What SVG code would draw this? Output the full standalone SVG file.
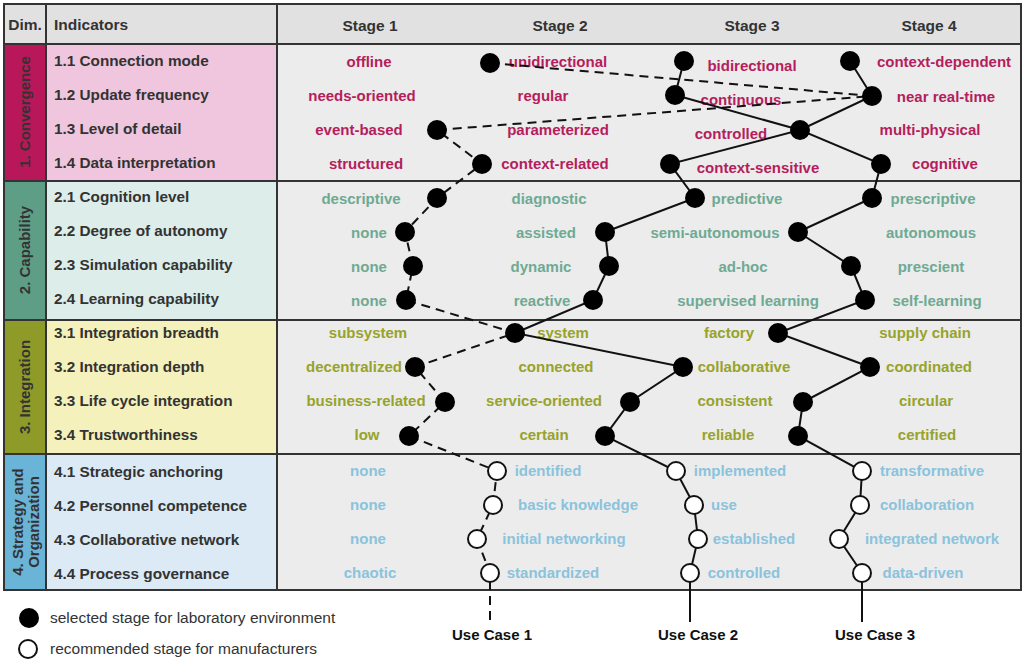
<svg xmlns="http://www.w3.org/2000/svg" width="1024" height="671" viewBox="0 0 1024 671">
<style>
text{font-family:"Liberation Sans",Arial,sans-serif;font-weight:bold;font-size:15px}
.h{font-size:15.5px;fill:#333;text-anchor:middle}
.ind{fill:#333;font-size:15.3px}
.m{fill:#b51d5c;text-anchor:middle}
.t{fill:#6eaa93;text-anchor:middle}
.o{fill:#97a32a;text-anchor:middle}
.b{fill:#8ac3dc;text-anchor:middle}
.dim{fill:#333;text-anchor:middle;font-size:15px}
.grid{stroke:#333;stroke-width:2;fill:none}
.s{stroke:#111;stroke-width:2;fill:none}
.d{stroke:#111;stroke-width:2;fill:none;stroke-dasharray:9 6}
.f{fill:#000}
.e{fill:#fff;stroke:#111;stroke-width:2}
.uc{font-size:15px;fill:#111;text-anchor:middle}
.lg{font-weight:normal;font-size:15.5px;fill:#333}
</style>
<rect width="1024" height="671" fill="#fff"/>
<g id="table">
<rect x="4" y="4" width="1017" height="40" fill="#e1e1e1"/>
<rect x="277" y="44" width="744" height="546" fill="#ececec"/>
<rect x="4" y="44" width="42" height="137" fill="#b8185a"/>
<rect x="46" y="44" width="231" height="137" fill="#efc6dd"/>
<rect x="4" y="181" width="42" height="139" fill="#5e9e86"/>
<rect x="46" y="181" width="231" height="139" fill="#dcedea"/>
<rect x="4" y="320" width="42" height="134" fill="#8f9b28"/>
<rect x="46" y="320" width="231" height="134" fill="#f4f1bd"/>
<rect x="4" y="454" width="42" height="136" fill="#6ab4d8"/>
<rect x="46" y="454" width="231" height="136" fill="#dbeaf5"/>
<rect x="4" y="4" width="1017" height="586" class="grid"/>
<path class="grid" d="M4 44H1021M4 181H1021M4 320H1021M4 454H1021M46 4V590M277 4V590"/>
</g>
<g id="headers">
<text x="25" y="30" class="h">Dim.</text>
<text x="54" y="30" class="ind" style="font-size:15.5px">Indicators</text>
<text x="370" y="31" class="h">Stage 1</text>
<text x="560" y="31" class="h">Stage 2</text>
<text x="752" y="31" class="h">Stage 3</text>
<text x="929" y="31" class="h">Stage 4</text>
</g>
<g id="dims">
<text class="dim" transform="translate(30,112) rotate(-90)">1. Convergence</text>
<text class="dim" transform="translate(30,250) rotate(-90)">2. Capability</text>
<text class="dim" transform="translate(30,387) rotate(-90)">3. Integration</text>
<text class="dim" transform="translate(23,522) rotate(-90)">4. Strategy and</text>
<text class="dim" transform="translate(39,522) rotate(-90)">Organization</text>
</g>
<g id="indicators">
<text x="54" y="66" class="ind">1.1 Connection mode</text>
<text x="54" y="100" class="ind">1.2 Update frequency</text>
<text x="54" y="134" class="ind">1.3 Level of detail</text>
<text x="54" y="168" class="ind">1.4 Data interpretation</text>
<text x="54" y="202" class="ind">2.1 Cognition level</text>
<text x="54" y="236" class="ind">2.2 Degree of autonomy</text>
<text x="54" y="270" class="ind">2.3 Simulation capability</text>
<text x="54" y="304" class="ind">2.4 Learning capability</text>
<text x="54" y="338" class="ind">3.1 Integration breadth</text>
<text x="54" y="372" class="ind">3.2 Integration depth</text>
<text x="54" y="406" class="ind">3.3 Life cycle integration</text>
<text x="54" y="440" class="ind">3.4 Trustworthiness</text>
<text x="54" y="477" class="ind">4.1 Strategic anchoring</text>
<text x="54" y="511" class="ind">4.2 Personnel competence</text>
<text x="54" y="545" class="ind">4.3 Collaborative network</text>
<text x="54" y="579" class="ind">4.4 Process governance</text>
</g>
<g id="stages">
<text x="369" y="67" class="m">offline</text><text x="558" y="67" class="m">unidirectional</text><text x="752" y="71" class="m">bidirectional</text><text x="944" y="67" class="m">context-dependent</text>
<text x="362" y="101" class="m">needs-oriented</text><text x="543" y="101" class="m">regular</text><text x="741" y="105" class="m">continuous</text><text x="946" y="102" class="m">near real-time</text>
<text x="359" y="135" class="m">event-based</text><text x="558" y="135" class="m">parameterized</text><text x="731" y="139" class="m">controlled</text><text x="930" y="135" class="m">multi-physical</text>
<text x="366" y="169" class="m">structured</text><text x="555" y="169" class="m">context-related</text><text x="758" y="173" class="m">context-sensitive</text><text x="945" y="169" class="m">cognitive</text>
<text x="361" y="204" class="t">descriptive</text><text x="549" y="204" class="t">diagnostic</text><text x="747" y="204" class="t">predictive</text><text x="933" y="204" class="t">prescriptive</text>
<text x="369" y="238" class="t">none</text><text x="546" y="238" class="t">assisted</text><text x="715" y="238" class="t">semi-autonomous</text><text x="931" y="238" class="t">autonomous</text>
<text x="369" y="272" class="t">none</text><text x="541" y="272" class="t">dynamic</text><text x="743" y="272" class="t">ad-hoc</text><text x="931" y="272" class="t">prescient</text>
<text x="369" y="306" class="t">none</text><text x="542" y="306" class="t">reactive</text><text x="748" y="306" class="t">supervised learning</text><text x="937" y="306" class="t">self-learning</text>
<text x="368" y="338" class="o">subsystem</text><text x="563" y="338" class="o">system</text><text x="729" y="338" class="o">factory</text><text x="925" y="338" class="o">supply chain</text>
<text x="354" y="372" class="o">decentralized</text><text x="556" y="372" class="o">connected</text><text x="744" y="372" class="o">collaborative</text><text x="929" y="372" class="o">coordinated</text>
<text x="366" y="406" class="o">business-related</text><text x="544" y="406" class="o">service-oriented</text><text x="735" y="406" class="o">consistent</text><text x="926" y="406" class="o">circular</text>
<text x="367" y="440" class="o">low</text><text x="544" y="440" class="o">certain</text><text x="728" y="440" class="o">reliable</text><text x="927" y="440" class="o">certified</text>
<text x="368" y="476" class="b">none</text><text x="548" y="476" class="b">identified</text><text x="740" y="476" class="b">implemented</text><text x="932" y="476" class="b">transformative</text>
<text x="368" y="510" class="b">none</text><text x="578" y="510" class="b">basic knowledge</text><text x="724" y="510" class="b">use</text><text x="927" y="510" class="b">collaboration</text>
<text x="368" y="544" class="b">none</text><text x="564" y="544" class="b">initial networking</text><text x="754" y="544" class="b">established</text><text x="932" y="544" class="b">integrated network</text>
<text x="370" y="578" class="b">chaotic</text><text x="553" y="578" class="b">standardized</text><text x="744" y="578" class="b">controlled</text><text x="923" y="578" class="b">data-driven</text>
</g>
<g id="connectors">
<polyline class="d" points="490,63 872,96 437,130 482,164 437,198 405,232 413,266 406,300 515,333 415,367 445,402 409,436 497,471 493,505 477,539 490,573 490,622"/>
<polyline class="s" points="684,61 675,95 800,130 670,164 695,198 605,232 609,266 593,300 515,333 683,367 630,402 605,436 676,471 694,505 698,539 690,573 690,622"/>
<polyline class="s" points="850,61 872,96 800,130 881,164 872,198 798,232 851,266 865,300 778,333 870,367 803,402 798,436 862,471 860,505 839,539 862,573 862,622"/>
</g>
<g id="dots">
<circle class="f" cx="490" cy="63" r="10"/><circle class="f" cx="872" cy="96" r="10"/><circle class="f" cx="437" cy="130" r="10"/><circle class="f" cx="482" cy="164" r="10"/><circle class="f" cx="437" cy="198" r="10"/><circle class="f" cx="405" cy="232" r="10"/><circle class="f" cx="413" cy="266" r="10"/><circle class="f" cx="406" cy="300" r="10"/><circle class="f" cx="515" cy="333" r="10"/><circle class="f" cx="415" cy="367" r="10"/><circle class="f" cx="445" cy="402" r="10"/><circle class="f" cx="409" cy="436" r="10"/>
<circle class="f" cx="684" cy="61" r="10"/><circle class="f" cx="675" cy="95" r="10"/><circle class="f" cx="800" cy="130" r="10"/><circle class="f" cx="670" cy="164" r="10"/><circle class="f" cx="695" cy="198" r="10"/><circle class="f" cx="605" cy="232" r="10"/><circle class="f" cx="609" cy="266" r="10"/><circle class="f" cx="593" cy="300" r="10"/><circle class="f" cx="683" cy="367" r="10"/><circle class="f" cx="630" cy="402" r="10"/><circle class="f" cx="605" cy="436" r="10"/>
<circle class="f" cx="850" cy="61" r="10"/><circle class="f" cx="881" cy="164" r="10"/><circle class="f" cx="872" cy="198" r="10"/><circle class="f" cx="798" cy="232" r="10"/><circle class="f" cx="851" cy="266" r="10"/><circle class="f" cx="865" cy="300" r="10"/><circle class="f" cx="778" cy="333" r="10"/><circle class="f" cx="870" cy="367" r="10"/><circle class="f" cx="803" cy="402" r="10"/><circle class="f" cx="798" cy="436" r="10"/>
<circle class="e" cx="497" cy="471" r="9"/><circle class="e" cx="493" cy="505" r="9"/><circle class="e" cx="477" cy="539" r="9"/><circle class="e" cx="490" cy="573" r="9"/>
<circle class="e" cx="676" cy="471" r="9"/><circle class="e" cx="694" cy="505" r="9"/><circle class="e" cx="698" cy="539" r="9"/><circle class="e" cx="690" cy="573" r="9"/>
<circle class="e" cx="862" cy="471" r="9"/><circle class="e" cx="860" cy="505" r="9"/><circle class="e" cx="839" cy="539" r="9"/><circle class="e" cx="862" cy="573" r="9"/>
</g>
<g id="usecases">
<text x="492" y="640" class="uc">Use Case 1</text>
<text x="698" y="640" class="uc">Use Case 2</text>
<text x="875" y="640" class="uc">Use Case 3</text>
</g>
<g id="legend">
<circle class="f" cx="29" cy="618" r="10"/>
<text x="50" y="623" class="lg">selected stage for laboratory environment</text>
<circle class="e" cx="28" cy="649" r="9"/>
<text x="50" y="654" class="lg">recommended stage for manufacturers</text>
</g>
</svg>
